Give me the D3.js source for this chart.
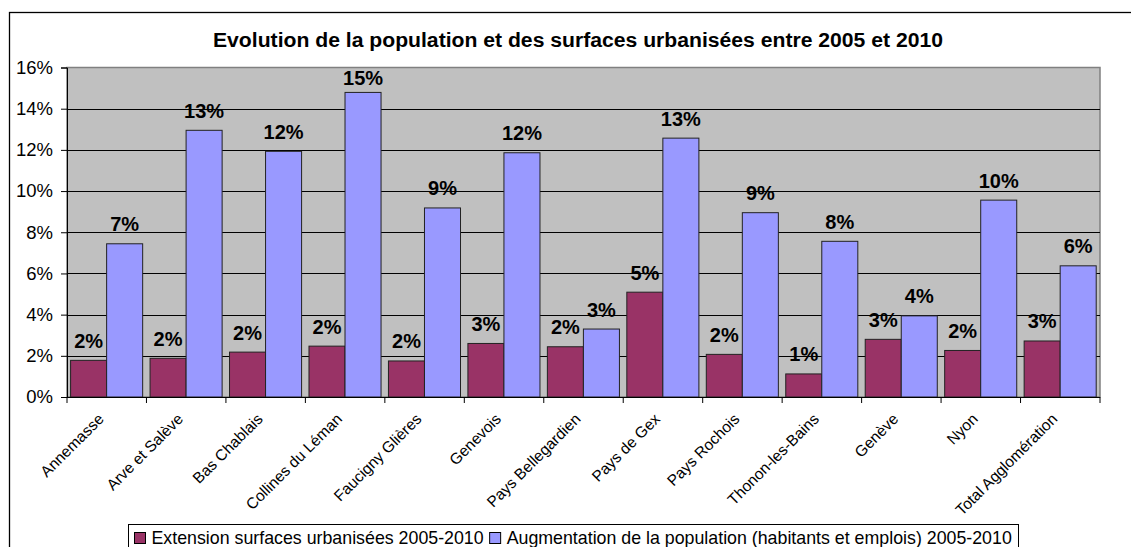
<!DOCTYPE html>
<html>
<head>
<meta charset="utf-8">
<script src="https://cdn.jsdelivr.net/npm/d3@7"></script>
<style>
  html, body { margin: 0; padding: 0; background: #fff; }
  svg { display: block; font-family: Arial, "Liberation Sans", sans-serif; }
</style>
</head>
<body>
<svg id="chart" width="1131" height="547"></svg>
<script>
// Territories of the agglomeration
const categories = [
  "Annemasse", "Arve et Salève", "Bas Chablais", "Collines du Léman",
  "Faucigny Glières", "Genevois", "Pays Bellegardien", "Pays de Gex",
  "Pays Rochois", "Thonon-les-Bains", "Genève", "Nyon", "Total Agglomération"
];
// Growth of urbanised surfaces 2005-2010 (%)
const extensionValues = [1.78, 1.88, 2.18, 2.47, 1.75, 2.60, 2.44, 5.09, 2.07, 1.12, 2.80, 2.26, 2.72];
// Growth of population (inhabitants and jobs) 2005-2010 (%)
const populationValues = [7.44, 12.95, 11.93, 14.79, 9.18, 11.86, 3.30, 12.57, 8.95, 7.56, 3.94, 9.56, 6.37];
// Series names
const seriesNames = [
  "Extension surfaces urbanisées 2005-2010",
  "Augmentation de la population (habitants et emplois) 2005-2010"
];
const seriesColors = ["#993366", "#9999FF"];
const yTicks = [0, 2, 4, 6, 8, 10, 12, 14, 16];
const title = "Evolution de la population et des surfaces urbanisées entre 2005 et 2010";

const svg = d3.select("#chart");

// Outer chart frame
svg.append("rect")
  .attr("x", 9.5).attr("y", 12.5)
  .attr("width", 1300).attr("height", 600)
  .attr("fill", "#fff").attr("stroke", "#000").attr("stroke-width", 1.3);

const plot = { left: 67, right: 1100, top: 67.5, bottom: 397 };

const y = d3.scaleLinear().domain([0, 16]).range([plot.bottom, plot.top]);
const x0 = d3.scaleBand().domain(categories).range([plot.left, plot.right]).padding(0);
const x1 = d3.scaleBand().domain([0, 1]).range([3.6, x0.bandwidth() - 3.8]).padding(0);

// Plot background
svg.append("rect")
  .attr("x", plot.left).attr("y", plot.top)
  .attr("width", plot.right - plot.left).attr("height", plot.bottom - plot.top)
  .attr("fill", "#C0C0C0").attr("stroke", "#808080").attr("stroke-width", 1.5);

// Horizontal gridlines
svg.append("g")
  .selectAll("line")
  .data(yTicks.filter(d => d > 0 && d < 16))
  .join("line")
  .attr("x1", plot.left).attr("x2", plot.right)
  .attr("y1", d => Math.round(y(d)) + 0.5).attr("y2", d => Math.round(y(d)) + 0.5)
  .attr("stroke", "#000").attr("stroke-width", 1);

// Bars
const groups = svg.append("g")
  .selectAll("g")
  .data(categories)
  .join("g")
  .attr("transform", d => `translate(${x0(d)},0)`);

const rows = categories.map((c, i) => [extensionValues[i], populationValues[i]]);

groups.selectAll("rect")
  .data((d, i) => rows[i].map((v, k) => ({ k, v })))
  .join("rect")
  .attr("x", d => x1(d.k))
  .attr("y", d => y(d.v))
  .attr("width", x1.bandwidth())
  .attr("height", d => y(0) - y(d.v))
  .attr("fill", d => seriesColors[d.k])
  .attr("stroke", "#222").attr("stroke-width", 1);

// Value labels
const fmt = v => d3.format(".0f")(v) + "%";
groups.selectAll("text")
  .data((d, i) => rows[i].map((v, k) => ({ k, v })))
  .join("text")
  .attr("x", d => x1(d.k) + x1.bandwidth() / 2)
  .attr("y", d => Math.max(y(d.v) - 12.5, plot.top + 17.5))
  .attr("text-anchor", "middle")
  .attr("font-size", 20).attr("font-weight", "bold").attr("fill", "#000")
  .text(d => fmt(d.v));

// Y axis
const yAxis = svg.append("g")
  .attr("transform", `translate(${plot.left},0)`)
  .call(d3.axisLeft(y).tickValues(yTicks).tickFormat(d => d + "%").tickSize(6).tickPadding(8));
yAxis.select(".domain").attr("stroke", "#000");
yAxis.selectAll("text").attr("font-size", 18.5).attr("font-family", "Arial, 'Liberation Sans', sans-serif").attr("fill", "#000");

// X axis: ticks at category boundaries
const xAxis = svg.append("g");
xAxis.append("line")
  .attr("x1", plot.left).attr("x2", plot.right)
  .attr("y1", plot.bottom + 0.5).attr("y2", plot.bottom + 0.5)
  .attr("stroke", "#000");
xAxis.selectAll("line.tick")
  .data(categories.concat([null]))
  .join("line")
  .attr("class", "tick")
  .attr("x1", (d, i) => plot.left + i * x0.step())
  .attr("x2", (d, i) => plot.left + i * x0.step())
  .attr("y1", plot.bottom).attr("y2", plot.bottom + 6)
  .attr("stroke", "#000");

xAxis.selectAll("text")
  .data(categories)
  .join("text")
  .attr("transform", d => `translate(${x0(d) + x0.bandwidth() / 2 - 2},${plot.bottom + 23}) rotate(-45)`)
  .attr("text-anchor", "end")
  .attr("font-size", 15.5).attr("fill", "#000")
  .text(d => d);

// Title
svg.append("text")
  .attr("x", 578).attr("y", 47)
  .attr("text-anchor", "middle")
  .attr("font-size", 20).attr("font-weight", "bold")
  .attr("textLength", 730).attr("lengthAdjust", "spacingAndGlyphs")
  .text(title);

// Legend
const legend = svg.append("g");
legend.append("rect")
  .attr("x", 128.5).attr("y", 524.5)
  .attr("width", 890).attr("height", 40)
  .attr("fill", "#fff").attr("stroke", "#000").attr("stroke-width", 1);

let lx = 134.5;
seriesNames.forEach((name, i) => {
  legend.append("rect")
    .attr("x", lx).attr("y", 532.5)
    .attr("width", 11).attr("height", 11)
    .attr("fill", seriesColors[i]).attr("stroke", "#000").attr("stroke-width", 1);
  const t = legend.append("text")
    .attr("x", lx + 17).attr("y", 544)
    .attr("font-size", 17.8).attr("fill", "#000")
    .text(name);
  lx = lx + 17 + t.node().getComputedTextLength() + 6;
});
</script>
</body>
</html>
